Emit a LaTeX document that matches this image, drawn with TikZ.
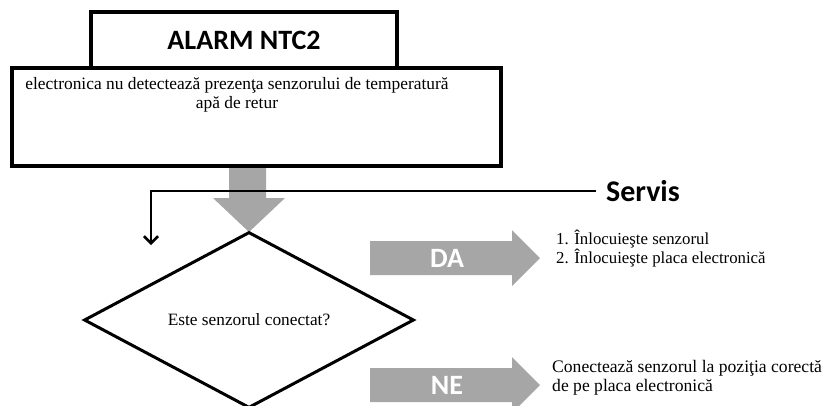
\documentclass[tikz,border=0pt]{standalone}
\usepackage{fontspec}
\setmainfont{Liberation Serif}
\newfontfamily\labelfont{Carlito}
\usetikzlibrary{shapes.geometric,arrows.meta}
\definecolor{arrowgray}{HTML}{A6A6A6}
\begin{document}
\begin{tikzpicture}[x=1pt,y=-1pt,line join=miter,
  boxstyle/.style={draw=black,fill=white,line width=3.4pt,inner sep=0pt},
  titlestyle/.style={font=\labelfont\bfseries\fontsize{28}{30}\selectfont},
  bodytext/.style={inner sep=0pt},
  flagfill/.style={fill=arrowgray,draw=none},
  flagtext/.style={font=\labelfont\bfseries\fontsize{28}{30}\selectfont,text=white,inner sep=0pt},
  link/.style={draw=black,line width=2.6pt,-{Straight Barb[length=7pt,width=14pt,line width=2.6pt]}}]
\useasboundingbox (0,0) rectangle (831,405);
\clip (0,0) rectangle (831,405);

% title and description boxes
\node[boxstyle,minimum width=306pt,minimum height=56pt,titlestyle] (title) at (244,40) {ALARM NTC2};
\node[boxstyle,minimum width=489pt,minimum height=98pt] (descbox) at (256.5,117) {};
\node[bodytext,align=center,font=\fontsize{17.4}{18.5}\selectfont] (desc) at (237,95) {electronica nu detectează prezenţa senzorului de temperatură\\apă de retur};

% big gray arrow down
\coordinate (downtip) at (249,232);
\fill[arrowgray] (229,168) -- (266,168) -- (266,198) -- (285,198) -- (downtip) -- (213,198) -- (229,198) -- cycle;

% decision diamond
\node[diamond,draw=black,line width=3pt,minimum width=330pt,minimum height=176pt,inner sep=0pt,
      font=\fontsize{17.3}{18}\selectfont] (question) at (249,320) {Este senzorul conectat?};

% Servis connector
\node[titlestyle,font=\labelfont\bfseries\fontsize{30}{32}\selectfont,inner sep=10pt] (servis) at (643,191) {Servis};
\coordinate (servisend) at (151,245);
\draw[link] (servis.west) -| (servisend);

% DA arrow
\fill[flagfill] (370,241) -- (512,241) -- (512,230) -- (540,258) -- (512,286) -- (512,275) -- (370,275) -- cycle;
\node[flagtext] (da) at (447,258) {DA};
\node[bodytext,align=left,anchor=west,font=\fontsize{16.8}{16.5}\selectfont] (daaction) at (556,249) {1. Înlocuieşte senzorul\\2. Înlocuieşte placa electronică};

% NE arrow
\fill[flagfill] (370,368) -- (512,368) -- (512,357) -- (540,385) -- (512,413) -- (512,402) -- (370,402) -- cycle;
\node[flagtext] (ne) at (447,385) {NE};
\node[bodytext,align=left,anchor=west,font=\fontsize{17.6}{19.5}\selectfont] (neaction) at (552,378) {Conectează senzorul la poziţia corectă\\de pe placa electronică};
\end{tikzpicture}
\end{document}
